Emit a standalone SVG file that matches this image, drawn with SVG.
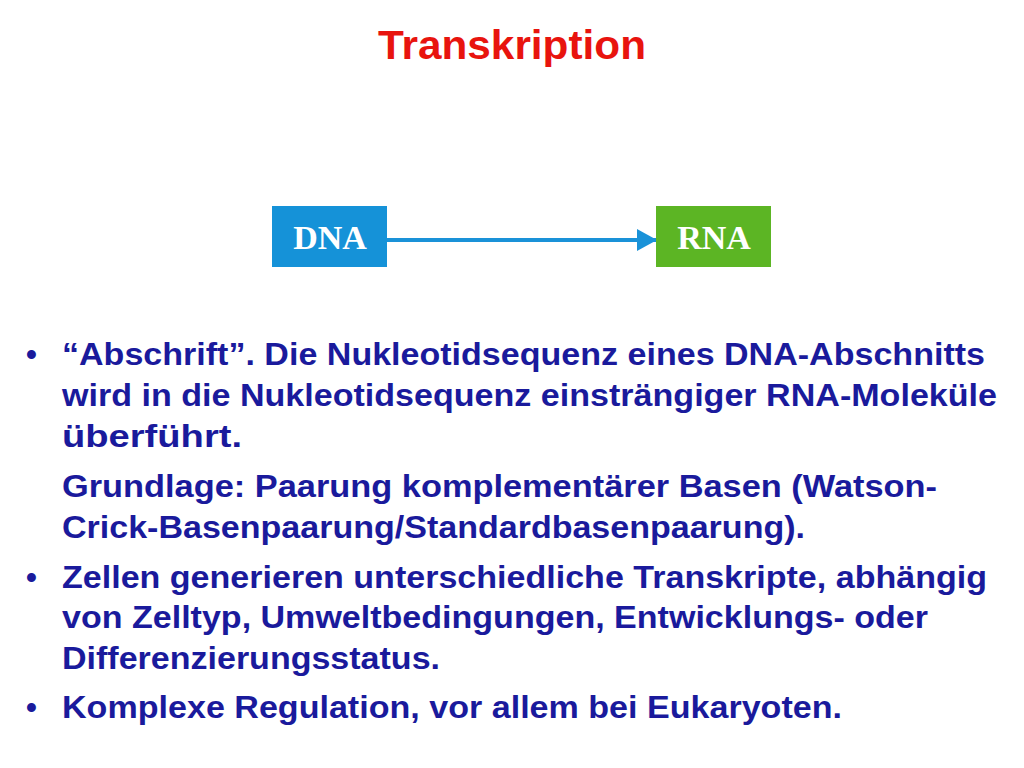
<svg xmlns="http://www.w3.org/2000/svg" width="1024" height="768" viewBox="0 0 1024 768">
<style>
.t{font-family:"Liberation Sans",Arial,sans-serif;font-weight:bold;font-size:31px;fill:#1a1a9c}
.b{font-family:"Liberation Serif","Times New Roman",serif;font-weight:bold;font-size:34px;fill:#fff;text-anchor:middle}
</style>
<defs>
<marker id="a" viewBox="0 0 20 22" refX="20" refY="11" markerWidth="20" markerHeight="22" orient="auto" markerUnits="userSpaceOnUse"><path d="M0,0L20,11L0,22z" fill="#1a92d8"/></marker></defs>
<rect width="1024" height="768" fill="#fff"/>
<text x="512" y="59" text-anchor="middle" style="font-family:'Liberation Sans',Arial,sans-serif;font-weight:bold;font-size:40px;fill:#e8140e" textLength="268" lengthAdjust="spacingAndGlyphs">Transkription</text>
<g id="connectors"><line x1="387" y1="240" x2="657" y2="240" stroke="#1a92d8" stroke-width="4" marker-end="url(#a)"/></g>
<g id="dna"><rect x="272" y="206" width="115" height="61" fill="#1592d8"/><text class="b" x="330" y="249">DNA</text></g>
<g id="rna"><rect x="656" y="206" width="115" height="61" fill="#5cb524"/><text class="b" x="714" y="249">RNA</text></g>
<g id="text">
<text class="t" x="26" y="365">•</text>
<text class="t" x="62" y="365" textLength="923" lengthAdjust="spacingAndGlyphs">“Abschrift”. Die Nukleotidsequenz eines DNA-Abschnitts</text>
<text class="t" x="62" y="406" textLength="935" lengthAdjust="spacingAndGlyphs">wird in die Nukleotidsequenz einsträngiger RNA-Moleküle</text>
<text class="t" x="62" y="447" textLength="180" lengthAdjust="spacingAndGlyphs">überführt.</text>
<text class="t" x="62" y="497" textLength="875" lengthAdjust="spacingAndGlyphs">Grundlage: Paarung komplementärer Basen (Watson-</text>
<text class="t" x="62" y="538" textLength="743" lengthAdjust="spacingAndGlyphs">Crick-Basenpaarung/Standardbasenpaarung).</text>
<text class="t" x="26" y="588">•</text>
<text class="t" x="62" y="588" textLength="925" lengthAdjust="spacingAndGlyphs">Zellen generieren unterschiedliche Transkripte, abhängig</text>
<text class="t" x="62" y="628" textLength="866" lengthAdjust="spacingAndGlyphs">von Zelltyp, Umweltbedingungen, Entwicklungs- oder</text>
<text class="t" x="62" y="669" textLength="378" lengthAdjust="spacingAndGlyphs">Differenzierungsstatus.</text>
<text class="t" x="26" y="718">•</text>
<text class="t" x="62" y="718" textLength="780" lengthAdjust="spacingAndGlyphs">Komplexe Regulation, vor allem bei Eukaryoten.</text>
</g>
</svg>
